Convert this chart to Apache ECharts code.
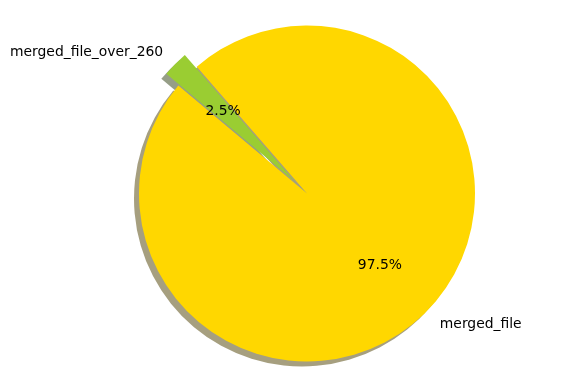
<!DOCTYPE html>
<html>
<head>
<meta charset="utf-8">
<style>html,body{margin:0;padding:0;background:#fff}#c{width:565px;height:389px}</style>
<script src="https://cdn.jsdelivr.net/npm/echarts@6/dist/echarts.min.js"></script>
</head>
<body>
<div id="c"></div>
<script>
var categories = ['merged_file', 'merged_file_over_260'];
var values = [97.5, 2.5];
var explode = [0, 0.1];
var colors = ['#FFD700', '#9ACD32'];
var shadowColors = ['rgba(77,64,0,0.5)', 'rgba(46,62,15,0.5)'];

var cx = 307, cy = 193.5, R = 168;
var font = 'DejaVu Sans';
var fs = 13.9;

function items(colorArr) {
  return categories.map(function (c, i) {
    return { name: c, value: values[i], selected: explode[i] > 0,
      itemStyle: { color: colorArr ? colorArr[i] : 'rgba(0,0,0,0)' } };
  });
}
var common = {
  type: 'pie', startAngle: 140, clockwise: false, animation: false,
  selectedMode: 'multiple', selectedOffset: 0.1 * R, silent: true,
  avoidLabelOverlap: false, emphasis: { disabled: true, scale: false },
  minAngle: 0
};
function S(o) { var r = {}; for (var k in common) r[k] = common[k]; for (var k2 in o) r[k2] = o[k2]; return r; }

var total = values.reduce(function (a, b) { return a + b; }, 0);

var option = {
  backgroundColor: '#fff',
  series: [
    S({ z: 1, center: [cx - 5, cy + 5], radius: [0, R], data: items(shadowColors),
        label: { show: false }, labelLine: { show: false } }),
    S({ z: 2, center: [cx, cy], radius: [0, R], data: items(colors),
        label: { show: true, position: 'outside', distanceToLabelLine: 0, offset: [1, 1],
          fontFamily: font, fontSize: fs, color: '#000', formatter: '{b}' },
        labelLine: { show: false, length: 0.1 * R, length2: 0 } }),
    S({ z: 3, center: [cx, cy], radius: [0, 2 * (0.6 * R - 3)], data: items(null),
        label: { show: true, position: 'inside', offset: [1, 1], fontFamily: font, fontSize: fs, color: '#000',
          formatter: function (p) { return (p.value / total * 100).toFixed(1) + '%'; } },
        labelLine: { show: false } })
  ]
};
var chart = echarts.init(document.getElementById('c'), null, { renderer: 'canvas' });
chart.setOption(option);
</script>
</body>
</html>
